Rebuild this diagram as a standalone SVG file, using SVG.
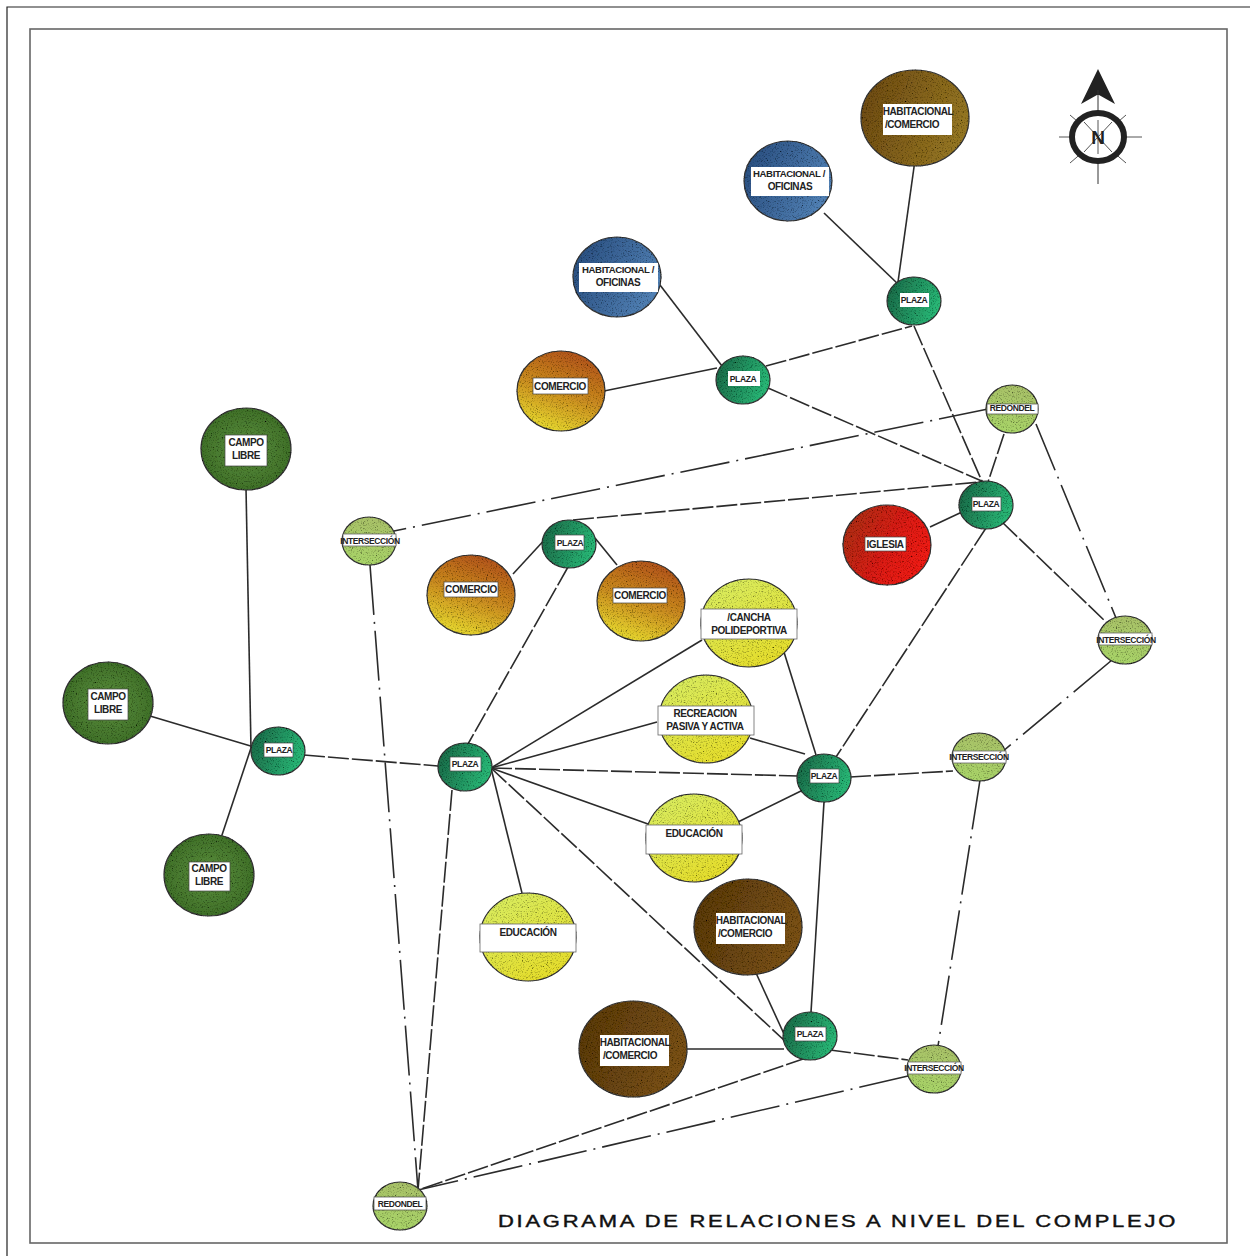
<svg xmlns="http://www.w3.org/2000/svg" width="1250" height="1256" viewBox="0 0 1250 1256">
<style>
text{font-family:"Liberation Sans",Arial,sans-serif;font-size:10px;font-weight:bold;fill:#222;text-anchor:middle;letter-spacing:-.4px}
.sm{font-size:8.5px}
.t{font-size:9.6px}
.n{stroke:#333;stroke-width:1.2;filter:url(#sp)}
.b{fill:#fff;stroke:#444;stroke-width:.7}
.s{fill:#fff;stroke:#666;stroke-width:.8}
.w{fill:#fff;stroke:none}
#edges path{fill:none;stroke:#2b2b2b;stroke-width:1.6}
#edges .d{stroke-dasharray:50 7 2 7}
#edges .g{stroke-dasharray:21 3}
</style>
<defs>
<filter id="sp" x="-5%" y="-5%" width="110%" height="110%"><feTurbulence type="fractalNoise" baseFrequency=".8" numOctaves="2" seed="4"/><feColorMatrix values="0 0 0 0 0 0 0 0 0 0 0 0 0 0 0 1.7 1.7 0 0 -1.75"/><feComposite in2="SourceAlpha" operator="in" result="s"/><feMerge><feMergeNode in="SourceGraphic"/><feMergeNode in="s"/></feMerge></filter>
<linearGradient id="br1" x1="0" y1="0" x2="1" y2=".3"><stop offset="0" stop-color="#6a4714"/><stop offset="1" stop-color="#937422"/></linearGradient>
<linearGradient id="br" x1="0" y1="0" x2="1" y2=".3"><stop offset="0" stop-color="#56370e"/><stop offset="1" stop-color="#785016"/></linearGradient>
<linearGradient id="bl" x1="0" y1=".3" x2="1" y2=".7"><stop offset="0" stop-color="#2a4f80"/><stop offset="1" stop-color="#5484b8"/></linearGradient>
<linearGradient id="or" x1=".7" y1="0" x2=".3" y2="1"><stop offset="0" stop-color="#b0501a"/><stop offset=".5" stop-color="#c98a20"/><stop offset="1" stop-color="#e8dc30"/></linearGradient>
<linearGradient id="gr" x1="0" y1=".3" x2="1" y2=".6"><stop offset="0" stop-color="#1c6a48"/><stop offset="1" stop-color="#2abb78"/></linearGradient>
<linearGradient id="lg" x1=".6" y1="0" x2=".4" y2="1"><stop offset="0" stop-color="#a8c068"/><stop offset="1" stop-color="#a8d468"/></linearGradient>
<radialGradient id="dg" cx=".5" cy=".5" r=".6"><stop offset="0" stop-color="#5c8f3c"/><stop offset="1" stop-color="#3a6a26"/></radialGradient>
<linearGradient id="ye" x1=".2" y1="0" x2=".8" y2="1"><stop offset="0" stop-color="#d8ec60"/><stop offset="1" stop-color="#e6dc28"/></linearGradient>
<linearGradient id="re" x1="0" y1=".2" x2="1" y2=".7"><stop offset="0" stop-color="#a8301a"/><stop offset=".6" stop-color="#dc1a12"/><stop offset="1" stop-color="#f01a12"/></linearGradient>
</defs>
<rect width="1250" height="1256" fill="#fff"/>
<g id="frame" fill="none"><path d="M7 1256V7H1250" stroke="#222" stroke-width="1.2"/><rect x="30" y="29" width="1197" height="1214" stroke="#666" stroke-width="1.6"/></g>
<g id="edges">
<path d="M915 160L898 282"/>
<path d="M824 213L898 284"/>
<path d="M660 285L722 366"/>
<path d="M604 391L717 368"/>
<path d="M246 488L251 748"/>
<path d="M150 716L254 747"/>
<path d="M221 838L251 748"/>
<path d="M513 574L548 536"/>
<path d="M595 538L617 565"/>
<path d="M930 527L962 512"/>
<path d="M491 768L702 640"/>
<path d="M491 768L657 722"/>
<path d="M491 768L648 824"/>
<path d="M491 768L522 893"/>
<path d="M784 652L816 755"/>
<path d="M750 738L805 754"/>
<path d="M738 822L803 790"/>
<path d="M824 802L811 1012"/>
<path d="M756 973L784 1034"/>
<path d="M686 1049L784 1049"/>
<path class="g" d="M766 366L912 326"/>
<path class="g" d="M914 326L984 486"/>
<path class="g" d="M768 388L984 482"/>
<path class="d" d="M988 409L394 531"/>
<path class="g" d="M1004 434L988 482"/>
<path class="d" d="M1036 424L1116 618"/>
<path class="g" d="M1002 522L1106 622"/>
<path class="g" d="M573 520L980 482"/>
<path class="d" d="M1112 660L1002 752"/>
<path class="g" d="M986 528L836 757"/>
<path class="g" d="M568 567L468 744"/>
<path class="g" d="M304 755L438 766"/>
<path class="g" d="M491 768L798 776"/>
<path class="g" d="M850 777L953 771"/>
<path class="g" d="M491 768L786 1042"/>
<path class="d" d="M980 780L938 1046"/>
<path class="g" d="M830 1050L908 1060"/>
<path class="g" d="M452 790L418 1190"/>
<path class="d" d="M370 565L418 1190"/>
<path class="g" d="M806 1058L418 1190"/>
<path class="d" d="M908 1076L418 1190"/>
</g>
<g id="n1"><ellipse class="n" cx="915" cy="118" rx="54" ry="48" fill="url(#br1)"/><rect class="w" x="883" y="104" width="69" height="31"/><text x="918" y="115">HABITACIONAL</text><text x="912" y="128">/COMERCIO</text></g>
<g id="n2"><ellipse class="n" cx="788" cy="181" rx="44" ry="40" fill="url(#bl)"/><rect class="w" x="751" y="167" width="78" height="29"/><text class="t" x="789" y="177">HABITACIONAL /</text><text x="790" y="190">OFICINAS</text></g>
<g id="n3"><ellipse class="n" cx="914" cy="301" rx="27" ry="24" fill="url(#gr)"/><rect class="w" x="900" y="293" width="29" height="14"/><text class="sm" x="914" y="303">PLAZA</text></g>
<g id="n4"><ellipse class="n" cx="617" cy="277" rx="44" ry="40" fill="url(#bl)"/><rect class="w" x="579" y="263" width="79" height="29"/><text class="t" x="618" y="273">HABITACIONAL /</text><text x="618" y="286">OFICINAS</text></g>
<g id="n5"><ellipse class="n" cx="561" cy="391" rx="44" ry="40" fill="url(#or)"/><rect class="b" x="533" y="378" width="55" height="16"/><text x="560" y="390">COMERCIO</text></g>
<g id="n6"><ellipse class="n" cx="743" cy="380" rx="27" ry="24" fill="url(#gr)"/><rect class="w" x="728" y="371" width="32" height="15"/><text class="sm" x="743" y="382">PLAZA</text></g>
<g id="n7"><ellipse class="n" cx="1012" cy="409" rx="26" ry="24" fill="url(#lg)"/><rect class="b" x="987" y="404" width="51" height="10"/><text class="sm" x="1012" y="411">REDONDEL</text></g>
<g id="n8"><ellipse class="n" cx="986" cy="505" rx="27" ry="24" fill="url(#gr)"/><rect class="b" x="972" y="497" width="29" height="14"/><text class="sm" x="986" y="507">PLAZA</text></g>
<g id="n9"><ellipse class="n" cx="887" cy="545" rx="44" ry="40" fill="url(#re)"/><rect class="b" x="865" y="537" width="41" height="14"/><text x="885" y="548">IGLESIA</text></g>
<g id="n10"><ellipse class="n" cx="369" cy="541" rx="27" ry="24" fill="url(#lg)"/><rect class="s" x="343" y="534" width="53" height="12"/><text class="sm" x="370" y="544">INTERSECCIÓN</text></g>
<g id="n11"><ellipse class="n" cx="569" cy="544" rx="27" ry="24" fill="url(#gr)"/><rect class="b" x="555" y="535" width="29" height="15"/><text class="sm" x="570" y="546">PLAZA</text></g>
<g id="n12"><ellipse class="n" cx="471" cy="595" rx="44" ry="40" fill="url(#or)"/><rect class="b" x="444" y="582" width="54" height="15"/><text x="471" y="593">COMERCIO</text></g>
<g id="n13"><ellipse class="n" cx="641" cy="601" rx="44" ry="40" fill="url(#or)"/><rect class="b" x="613" y="588" width="54" height="15"/><text x="640" y="599">COMERCIO</text></g>
<g id="n14"><ellipse class="n" cx="749" cy="623" rx="48" ry="44" fill="url(#ye)"/><rect class="s" x="701" y="609" width="96" height="30"/><text x="749" y="621">/CANCHA</text><text x="749" y="634">POLIDEPORTIVA</text></g>
<g id="n15"><ellipse class="n" cx="1125" cy="640" rx="27" ry="24" fill="url(#lg)"/><rect class="s" x="1099" y="633" width="53" height="12"/><text class="sm" x="1126" y="643">INTERSECCIÓN</text></g>
<g id="n16"><ellipse class="n" cx="246" cy="449" rx="45" ry="41" fill="url(#dg)"/><rect class="b" x="225" y="435" width="42" height="31"/><text x="246" y="446">CAMPO</text><text x="246" y="459">LIBRE</text></g>
<g id="n17"><ellipse class="n" cx="108" cy="703" rx="45" ry="41" fill="url(#dg)"/><rect class="b" x="88" y="689" width="40" height="31"/><text x="108" y="700">CAMPO</text><text x="108" y="713">LIBRE</text></g>
<g id="n18"><ellipse class="n" cx="209" cy="875" rx="45" ry="41" fill="url(#dg)"/><rect class="b" x="189" y="862" width="41" height="29"/><text x="209" y="872">CAMPO</text><text x="209" y="885">LIBRE</text></g>
<g id="n19"><ellipse class="n" cx="278" cy="751" rx="27" ry="24" fill="url(#gr)"/><rect class="b" x="264" y="743" width="29" height="14"/><text class="sm" x="279" y="753">PLAZA</text></g>
<g id="n20"><ellipse class="n" cx="465" cy="767" rx="27" ry="24" fill="url(#gr)"/><rect class="b" x="450" y="757" width="31" height="14"/><text class="sm" x="465" y="767">PLAZA</text></g>
<g id="n21"><ellipse class="n" cx="824" cy="778" rx="27" ry="24" fill="url(#gr)"/><rect class="b" x="810" y="769" width="29" height="14"/><text class="sm" x="824" y="779">PLAZA</text></g>
<g id="n22"><ellipse class="n" cx="706" cy="719" rx="47" ry="44" fill="url(#ye)"/><rect class="s" x="658" y="706" width="96" height="29"/><text x="705" y="717">RECREACION</text><text x="705" y="730">PASIVA Y ACTIVA</text></g>
<g id="n23"><ellipse class="n" cx="979" cy="757" rx="27" ry="24" fill="url(#lg)"/><rect class="s" x="953" y="751" width="53" height="12"/><text class="sm" x="979" y="760">INTERSECCIÓN</text></g>
<g id="n24"><ellipse class="n" cx="694" cy="838" rx="48" ry="44" fill="url(#ye)"/><rect class="s" x="646" y="825" width="96" height="29"/><text x="694" y="837">EDUCACIÓN</text></g>
<g id="n25"><ellipse class="n" cx="528" cy="937" rx="48" ry="44" fill="url(#ye)"/><rect class="s" x="480" y="924" width="96" height="28"/><text x="528" y="936">EDUCACIÓN</text></g>
<g id="n26"><ellipse class="n" cx="748" cy="927" rx="54" ry="48" fill="url(#br)"/><rect class="w" x="716" y="913" width="69" height="31"/><text x="751" y="924">HABITACIONAL</text><text x="745" y="937">/COMERCIO</text></g>
<g id="n27"><ellipse class="n" cx="633" cy="1049" rx="54" ry="48" fill="url(#br)"/><rect class="w" x="600" y="1035" width="69" height="31"/><text x="635" y="1046">HABITACIONAL</text><text x="630" y="1059">/COMERCIO</text></g>
<g id="n28"><ellipse class="n" cx="810" cy="1036" rx="27" ry="24" fill="url(#gr)"/><rect class="b" x="795" y="1027" width="31" height="14"/><text class="sm" x="810" y="1037">PLAZA</text></g>
<g id="n29"><ellipse class="n" cx="934" cy="1069" rx="27" ry="24" fill="url(#lg)"/><rect class="s" x="908" y="1062" width="53" height="12"/><text class="sm" x="934" y="1071">INTERSECCIÓN</text></g>
<g id="n30"><ellipse class="n" cx="400" cy="1206" rx="27" ry="24" fill="url(#lg)"/><rect class="b" x="374" y="1197" width="52" height="13"/><text class="sm" x="400" y="1207">REDONDEL</text></g>
<g id="north"><path d="M1059 137H1142M1070 115L1126 163M1126 115L1070 163" stroke="#555" fill="none"/><path d="M1098 69L1081 104L1097 95L1099 95L1115 104Z" fill="#222"/><path d="M1098 90V184" stroke="#333" fill="none"/><ellipse cx="1098" cy="137" rx="26" ry="24" fill="#fff" stroke="#222" stroke-width="6"/><path d="M1098 120V154M1084 122L1112 152M1112 122L1084 152" stroke="#555" fill="none"/><text x="1098" y="144" style="font-size:19px;letter-spacing:0">N</text></g>
<text id="title" x="838" y="1227" style="font-size:16px;font-weight:normal;letter-spacing:2px;fill:#111;stroke:#111;stroke-width:.4" textLength="680" lengthAdjust="spacingAndGlyphs">DIAGRAMA DE RELACIONES A NIVEL DEL COMPLEJO</text>
</svg>
